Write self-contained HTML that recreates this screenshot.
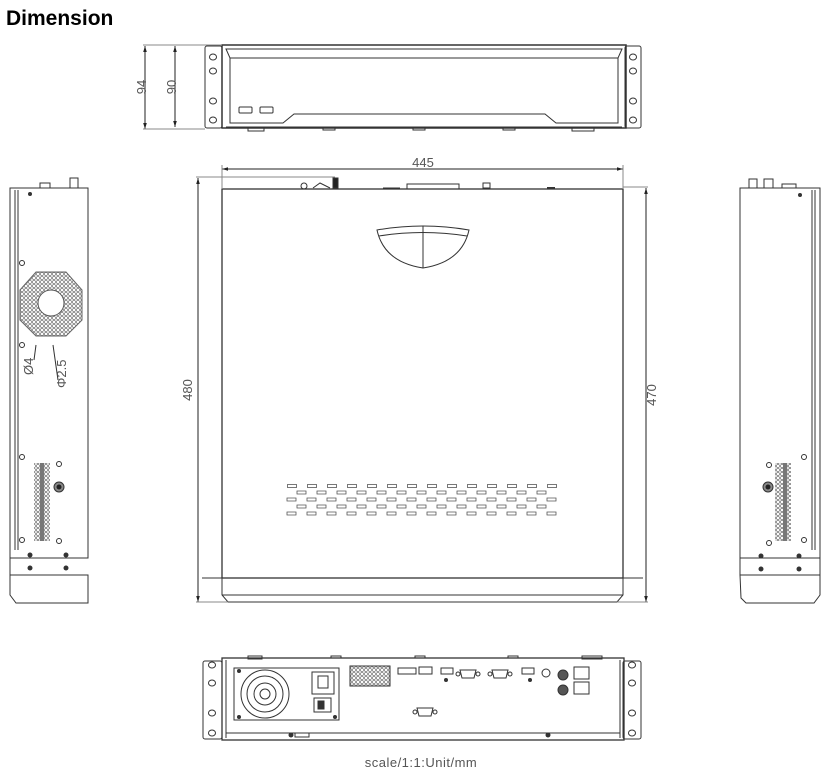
<!DOCTYPE html>
<html><head><meta charset="utf-8"><style>
html,body{margin:0;padding:0;background:#fff;width:836px;height:780px;overflow:hidden}
svg{display:block}
</style></head><body>
<svg width="836" height="780" viewBox="0 0 836 780" xmlns="http://www.w3.org/2000/svg" font-family="Liberation Sans, sans-serif">
<defs>
<pattern id="ventA" x="287" y="484" width="20" height="20" patternUnits="userSpaceOnUse"><rect x="0.5" y="0.5" width="9" height="3" fill="none" stroke="#555" stroke-width="0.8"/></pattern>
<pattern id="grid" x="0" y="0" width="4" height="4" patternUnits="userSpaceOnUse"><circle cx="2" cy="2" r="1.6" fill="none" stroke="#666" stroke-width="0.6"/></pattern>
<marker id="ar" viewBox="0 0 10 10" refX="10" refY="5" markerWidth="8" markerHeight="6" orient="auto-start-reverse"><path d="M0,2 L10,5 L0,8 Z" fill="#222"/></marker>
</defs>
<text x="6" y="25" font-size="21" font-weight="bold" fill="#000">Dimension</text>

<g fill="none" stroke="#333" stroke-width="1">
<!-- FRONT VIEW -->
<rect x="205" y="46" width="17" height="82" rx="2"/>
<rect x="625" y="46" width="16" height="82" rx="2"/>
<rect x="222" y="45" width="404" height="83" stroke-width="1.5"/>
<path d="M226,49 L622,49 L618,58 L230,58 Z"/>
<path d="M230,58 L230,123 L283,123 L294,114 L545,114 L556,123 L618,123 L618,58"/>
<line x1="226" y1="127" x2="622" y2="127"/>
<rect x="239" y="107" width="13" height="6" rx="1"/><rect x="260" y="107" width="13" height="6" rx="1"/>
<ellipse cx="213" cy="57" rx="3.5" ry="3"/><ellipse cx="213" cy="71" rx="3.5" ry="3"/><ellipse cx="213" cy="101" rx="3.5" ry="3"/><ellipse cx="213" cy="120" rx="3.5" ry="3"/>
<ellipse cx="633" cy="57" rx="3.5" ry="3"/><ellipse cx="633" cy="71" rx="3.5" ry="3"/><ellipse cx="633" cy="101" rx="3.5" ry="3"/><ellipse cx="633" cy="120" rx="3.5" ry="3"/>
<rect x="248" y="128" width="16" height="3"/><rect x="323" y="128" width="12" height="2"/><rect x="413" y="128" width="12" height="2"/><rect x="503" y="128" width="12" height="2"/><rect x="572" y="128" width="22" height="3"/>
<line x1="145" y1="46" x2="145" y2="129" stroke="#222" marker-start="url(#ar)" marker-end="url(#ar)"/>
<line x1="175" y1="46" x2="175" y2="127" stroke="#222" marker-start="url(#ar)" marker-end="url(#ar)"/>
<line x1="143" y1="45" x2="222" y2="45" stroke="#888"/>
<line x1="143" y1="129" x2="205" y2="129" stroke="#888"/>

<!-- TOP VIEW -->
<rect x="222" y="189" width="401" height="389" stroke-width="1.3"/>
<path d="M222,578 L222,595 L228,602 L617,602 L623,595 L623,578"/>
<line x1="222" y1="595" x2="623" y2="595"/>
<line x1="202" y1="578" x2="643" y2="578"/>
<line x1="222" y1="169" x2="623" y2="169" stroke="#222" marker-start="url(#ar)" marker-end="url(#ar)"/>
<line x1="222" y1="165" x2="222" y2="189" stroke="#888"/><line x1="623" y1="165" x2="623" y2="189" stroke="#888"/>
<line x1="198" y1="178" x2="198" y2="602" stroke="#222" marker-start="url(#ar)" marker-end="url(#ar)"/>
<line x1="196" y1="177" x2="335" y2="177" stroke="#888"/><line x1="196" y1="602" x2="228" y2="602" stroke="#888"/>
<line x1="646" y1="188" x2="646" y2="602" stroke="#222" marker-start="url(#ar)" marker-end="url(#ar)"/>
<line x1="623" y1="187" x2="648" y2="187" stroke="#888"/><line x1="617" y1="602" x2="648" y2="602" stroke="#888"/>
<circle cx="304" cy="186" r="3"/><rect x="333" y="178" width="5" height="10" fill="#222"/>
<path d="M313,188 L320,183 L330,188"/>
<rect x="407" y="184" width="52" height="5"/><rect x="483" y="183" width="7" height="5"/>
<line x1="383" y1="188" x2="400" y2="188"/><line x1="547" y1="188" x2="555" y2="188" stroke-width="2"/>
<path d="M377,230 Q423,222 469,230 Q462,262 423,268 Q384,262 377,230 Z"/>
<path d="M379,236 Q423,229 467,236"/>
<line x1="423" y1="226" x2="423" y2="268"/>
</g>
<rect x="287" y="484" width="280" height="4" fill="url(#ventA)"/>
<rect x="297" y="490" width="260" height="4" fill="url(#ventA)" transform="translate(0,0)"/>
<g fill="none" stroke="#555" stroke-width="0.8">
<path d="M297,491h9v3h-9z M317,491h9v3h-9z M337,491h9v3h-9z M357,491h9v3h-9z M377,491h9v3h-9z M397,491h9v3h-9z M417,491h9v3h-9z M437,491h9v3h-9z M457,491h9v3h-9z M477,491h9v3h-9z M497,491h9v3h-9z M517,491h9v3h-9z M537,491h9v3h-9z"/>
<path d="M297,505h9v3h-9z M317,505h9v3h-9z M337,505h9v3h-9z M357,505h9v3h-9z M377,505h9v3h-9z M397,505h9v3h-9z M417,505h9v3h-9z M437,505h9v3h-9z M457,505h9v3h-9z M477,505h9v3h-9z M497,505h9v3h-9z M517,505h9v3h-9z M537,505h9v3h-9z"/>
</g>
<rect x="287" y="497" width="280" height="4" fill="url(#ventA)" style="transform:translate(0,0)"/>
<g fill="none" stroke="#555" stroke-width="0.8">
<path d="M287,498h9v3h-9z M307,498h9v3h-9z M327,498h9v3h-9z M347,498h9v3h-9z M367,498h9v3h-9z M387,498h9v3h-9z M407,498h9v3h-9z M427,498h9v3h-9z M447,498h9v3h-9z M467,498h9v3h-9z M487,498h9v3h-9z M507,498h9v3h-9z M527,498h9v3h-9z M547,498h9v3h-9z"/>
<path d="M287,512h9v3h-9z M307,512h9v3h-9z M327,512h9v3h-9z M347,512h9v3h-9z M367,512h9v3h-9z M387,512h9v3h-9z M407,512h9v3h-9z M427,512h9v3h-9z M447,512h9v3h-9z M467,512h9v3h-9z M487,512h9v3h-9z M507,512h9v3h-9z M527,512h9v3h-9z M547,512h9v3h-9z"/>
</g>
<text x="423" y="167" font-size="13" fill="#555" text-anchor="middle">445</text>
<text transform="translate(192,390) rotate(-90)" font-size="13" fill="#555" text-anchor="middle">480</text>
<text transform="translate(656,395) rotate(-90)" font-size="13" fill="#555" text-anchor="middle">470</text>
<text transform="translate(146,87) rotate(-90)" font-size="13" fill="#555" text-anchor="middle">94</text>
<text transform="translate(176,87) rotate(-90)" font-size="13" fill="#555" text-anchor="middle">90</text>

<!-- LEFT SIDE -->
<g fill="none" stroke="#333" stroke-width="1">
<rect x="10" y="188" width="78" height="370"/>
<line x1="15" y1="190" x2="15" y2="550"/><line x1="18" y1="190" x2="18" y2="550"/>
<path d="M10,558 L10,595 L16,603 L88,603 L88,575 L10,575"/>
<rect x="40" y="183" width="10" height="5"/><rect x="70" y="178" width="8" height="10"/>
<circle cx="22" cy="263" r="2.5"/><circle cx="22" cy="345" r="2.5"/><circle cx="22" cy="457" r="2.5"/><circle cx="22" cy="540" r="2.5"/>
<circle cx="59" cy="464" r="2.5"/><circle cx="59" cy="541" r="2.5"/>
<line x1="36" y1="345" x2="34" y2="360"/><line x1="53" y1="345" x2="58" y2="380"/>
</g>
<polygon points="36,272 66,272 82,290 82,320 66,336 36,336 20,320 20,290" fill="url(#grid)" stroke="#666"/>
<circle cx="51" cy="303" r="13" fill="#fff" stroke="#555"/>
<rect x="34" y="463" width="16" height="78" fill="url(#grid)"/>
<rect x="40" y="463" width="4" height="78" fill="#777"/>
<circle cx="59" cy="487" r="5" fill="#888" stroke="#333"/><circle cx="59" cy="487" r="2.5" fill="#222"/>
<circle cx="30" cy="194" r="2" fill="#333"/>
<g fill="#333"><circle cx="30" cy="555" r="2.5"/><circle cx="66" cy="555" r="2.5"/><circle cx="30" cy="568" r="2.5"/><circle cx="66" cy="568" r="2.5"/></g>
<text transform="translate(33,375) rotate(-90)" font-size="13" fill="#555">Ø4</text>
<text transform="translate(66,388) rotate(-90)" font-size="13" fill="#555">Φ2.5</text>

<!-- RIGHT SIDE -->
<g fill="none" stroke="#333" stroke-width="1">
<rect x="740" y="188" width="80" height="370"/>
<line x1="812" y1="190" x2="812" y2="550"/><line x1="815" y1="190" x2="815" y2="550"/>
<path d="M740,558 L740,575 L820,575 M740,575 L741,598 L746,603 L814,603 L820,595 L820,558"/>
<rect x="749" y="179" width="8" height="9"/><rect x="764" y="179" width="9" height="9"/><rect x="782" y="184" width="14" height="4"/>
<circle cx="804" cy="457" r="2.5"/><circle cx="804" cy="540" r="2.5"/><circle cx="769" cy="465" r="2.5"/><circle cx="769" cy="543" r="2.5"/>
</g>
<rect x="775" y="463" width="16" height="78" fill="url(#grid)"/>
<rect x="783" y="463" width="4" height="78" fill="#777"/>
<circle cx="768" cy="487" r="5" fill="#888" stroke="#333"/><circle cx="768" cy="487" r="2.5" fill="#222"/>
<circle cx="800" cy="195" r="2" fill="#333"/>
<g fill="#333"><circle cx="761" cy="556" r="2.5"/><circle cx="799" cy="556" r="2.5"/><circle cx="761" cy="569" r="2.5"/><circle cx="799" cy="569" r="2.5"/></g>

<!-- REAR VIEW -->
<g fill="none" stroke="#333" stroke-width="1">
<rect x="203" y="661" width="19" height="78" rx="2"/>
<rect x="623" y="661" width="18" height="78" rx="2"/>
<rect x="222" y="658" width="402" height="82" stroke-width="1.3"/>
<line x1="226" y1="660" x2="226" y2="738"/><line x1="620" y1="660" x2="620" y2="738"/>
<line x1="226" y1="733" x2="620" y2="733"/>
<ellipse cx="212" cy="665" rx="3.5" ry="3"/><ellipse cx="212" cy="683" rx="3.5" ry="3"/><ellipse cx="212" cy="713" rx="3.5" ry="3"/><ellipse cx="212" cy="733" rx="3.5" ry="3"/>
<ellipse cx="632" cy="665" rx="3.5" ry="3"/><ellipse cx="632" cy="683" rx="3.5" ry="3"/><ellipse cx="632" cy="713" rx="3.5" ry="3"/><ellipse cx="632" cy="733" rx="3.5" ry="3"/>
<rect x="234" y="668" width="105" height="52"/>
<circle cx="265" cy="694" r="24"/><circle cx="265" cy="694" r="18"/><circle cx="265" cy="694" r="11"/><circle cx="265" cy="694" r="5"/>
<rect x="312" y="672" width="22" height="22"/><path d="M318,676 h10 v12 h-10 z"/>
<rect x="314" y="698" width="17" height="14"/><rect x="318" y="701" width="6" height="8" fill="#333"/>
<rect x="350" y="666" width="40" height="20" fill="url(#grid)"/>
<rect x="398" y="668" width="18" height="6"/>
<rect x="419" y="667" width="13" height="7"/><rect x="441" y="668" width="12" height="6"/>
<path d="M460,670 h16 l-2,8 h-12 z"/><circle cx="458" cy="674" r="2"/><circle cx="478" cy="674" r="2"/>
<path d="M492,670 h16 l-2,8 h-12 z"/><circle cx="490" cy="674" r="2"/><circle cx="510" cy="674" r="2"/>
<rect x="522" y="668" width="12" height="6"/><circle cx="546" cy="673" r="4"/>
<circle cx="563" cy="675" r="5" fill="#555"/><circle cx="563" cy="690" r="5" fill="#555"/>
<rect x="574" y="667" width="15" height="12"/><rect x="574" y="682" width="15" height="12"/>
<path d="M417,708 h16 l-2,8 h-12 z"/><circle cx="415" cy="712" r="2"/><circle cx="435" cy="712" r="2"/>
<rect x="295" y="733" width="14" height="4"/>
<rect x="248" y="656" width="14" height="3"/><rect x="331" y="656" width="10" height="2"/><rect x="415" y="656" width="10" height="2"/><rect x="508" y="656" width="10" height="2"/><rect x="582" y="656" width="20" height="3"/>
</g>
<g fill="#333"><circle cx="239" cy="671" r="2"/><circle cx="239" cy="717" r="2"/><circle cx="335" cy="717" r="2"/><circle cx="291" cy="735" r="2.5"/><circle cx="548" cy="735" r="2.5"/><circle cx="446" cy="680" r="2"/><circle cx="530" cy="680" r="2"/></g>
<text x="421" y="767" font-size="13" fill="#555" text-anchor="middle" letter-spacing="0.5">scale/1:1:Unit/mm</text>
</svg>
</body></html>
